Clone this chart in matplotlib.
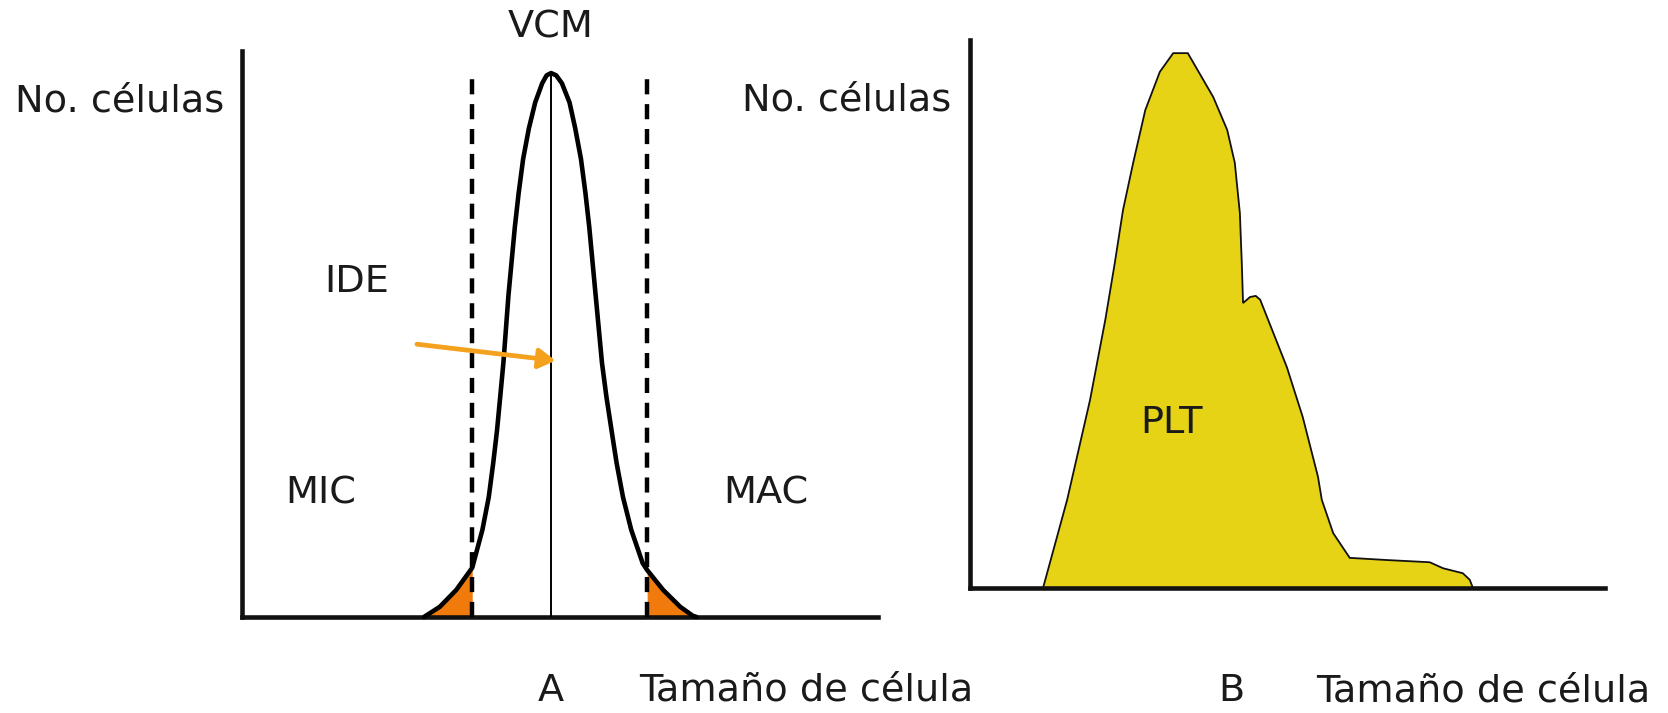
import matplotlib
matplotlib.use("Agg")
import matplotlib.pyplot as plt

# ---- Panel A: RBC size distribution (arbitrary size units) ----
rbc_size = [28.6, 31.1, 33.7, 36.2, 37.8, 38.8, 39.5, 40.1, 40.6, 41.1,
            41.5, 41.9, 42.4, 42.9, 43.5, 44.2, 45.1, 46.1, 47.2, 47.9,
            48.6,
            49.4, 50.3, 51.5, 52.4, 53.3, 54.0, 54.6, 55.1, 55.6, 56.1,
            56.6, 57.3, 58.1, 58.9, 59.9, 61.2, 63.0, 63.7, 66.2, 68.9,
            70.9, 71.5]
rbc_count = [0.0, 1.8, 4.8, 8.7, 15.4, 21.2, 27.2, 33.0, 38.9, 44.9,
             50.9, 56.9, 62.9, 68.9, 74.9, 80.9, 86.3, 90.9, 94.3, 95.7,
             96.1,
             95.7, 94.3, 90.9, 86.3, 80.9, 74.9, 68.9, 62.9, 56.9, 50.9,
             44.9, 38.9, 33.0, 27.2, 21.2, 15.4, 9.5, 8.3, 4.8, 1.8,
             0.2, 0.0]
vcm = 48.6
mic_limit = 36.2
mac_limit = 63.7

# ---- Panel B: platelet size distribution ----
plt_size = [11.5, 15.3, 18.9, 21.3, 22.8, 24.1, 25.7, 27.6, 29.9, 32.0,
            34.3, 35.1, 38.3, 40.5, 41.7, 42.5, 42.8, 43.0, 44.1, 45.0,
            45.7, 49.9, 52.4, 54.8, 55.4, 57.2, 59.8, 65.7, 72.4, 74.5,
            77.6, 78.7, 79.2]
plt_count = [0.0, 16.1, 34.3, 48.9, 59.3, 69.0, 77.6, 87.2, 94.2, 97.6,
             97.6, 96.0, 89.6, 83.6, 77.6, 68.4, 59.3, 52.0, 53.1, 53.3,
             52.6, 40.3, 31.2, 20.3, 16.1, 10.0, 5.5, 5.1, 4.7, 3.6,
             2.7, 1.5, 0.0]

W, H = 1668, 713
TXT = "#1a1a1a"
FS = 27.5

plt.rcParams["font.family"] = ["DejaVu Sans"]

fig = plt.figure(figsize=(W / 100, H / 100), dpi=100)
fig.patch.set_facecolor("white")


def make_axes(left_px, top_px, right_px, bottom_px):
    ax = fig.add_axes([left_px / W, 1 - bottom_px / H,
                       (right_px - left_px) / W, (bottom_px - top_px) / H])
    ax.set_xlim(0, 100)
    ax.set_ylim(0, 100)
    for side in ("top", "right"):
        ax.spines[side].set_visible(False)
    for side in ("left", "bottom"):
        ax.spines[side].set_linewidth(3.3)
        ax.spines[side].set_color("#111111")
    ax.set_xticks([])
    ax.set_yticks([])
    ax.patch.set_alpha(0)
    return ax


# ---------- A ----------
axA = make_axes(242, 51, 878, 617)

# orange tails beyond the cutoffs
left_x = [x for x in rbc_size if x <= mic_limit]
left_y = rbc_count[:len(left_x)]
right_x = [x for x in rbc_size if x >= mac_limit]
right_y = rbc_count[len(rbc_size) - len(right_x):]
axA.fill_between(left_x, 0, left_y, color="#F07A0C", lw=0, zorder=2)
axA.fill_between(right_x, 0, right_y, color="#F07A0C", lw=0, zorder=2)

axA.plot(rbc_size, rbc_count, color="black", lw=3.3,
         solid_joinstyle="round", solid_capstyle="round", zorder=4,
         clip_on=False)
axA.plot([vcm, vcm], [0, max(rbc_count)], color="black", lw=1.4, zorder=3)
for xc in (mic_limit, mac_limit):
    axA.plot([xc, xc], [0, 95.5], color="black", lw=3.2,
             linestyle=(0, (3.4, 2.2)), dash_capstyle="butt", zorder=3)

axA.annotate("", xy=(49.3, 45.3), xytext=(27.5, 48.2),
             arrowprops=dict(arrowstyle="-|>,head_length=1.0,head_width=0.6",
                             color="#F4A11E", lw=3.4, shrinkA=0, shrinkB=0),
             zorder=5)

axA.text(-19.2, 91.0, "No. células", fontsize=FS, color=TXT,
         ha="center", va="center", clip_on=False)
axA.text(vcm, 104.1, "VCM", fontsize=FS, color=TXT,
         ha="center", va="center", clip_on=False)
axA.text(18.1, 59.2, "IDE", fontsize=FS, color=TXT, ha="center", va="center")
axA.text(12.4, 21.9, "MIC", fontsize=FS, color=TXT, ha="center", va="center")
axA.text(82.4, 21.9, "MAC", fontsize=FS, color=TXT, ha="center", va="center")
axA.text(vcm, -13.1, "A", fontsize=FS, color=TXT,
         ha="center", va="center", clip_on=False)
axA.text(88.7, -13.0, "Tamaño de célula", fontsize=FS, color=TXT,
         ha="center", va="center", clip_on=False)

# ---------- B ----------
axB = make_axes(970, 40, 1605, 588)
axB.fill(plt_size, plt_count, facecolor="#E6D316", edgecolor="#111111",
         lw=1.3, zorder=2)
axB.text(-19.4, 88.9, "No. células", fontsize=FS, color=TXT,
         ha="center", va="center", clip_on=False)
axB.text(31.8, 30.1, "PLT", fontsize=FS, color=TXT, ha="center", va="center")
axB.text(41.1, -18.8, "B", fontsize=FS, color=TXT,
         ha="center", va="center", clip_on=False)
axB.text(80.9, -18.8, "Tamaño de célula", fontsize=FS, color=TXT,
         ha="center", va="center", clip_on=False)

fig.savefig("out.png", dpi=100, facecolor="white")
